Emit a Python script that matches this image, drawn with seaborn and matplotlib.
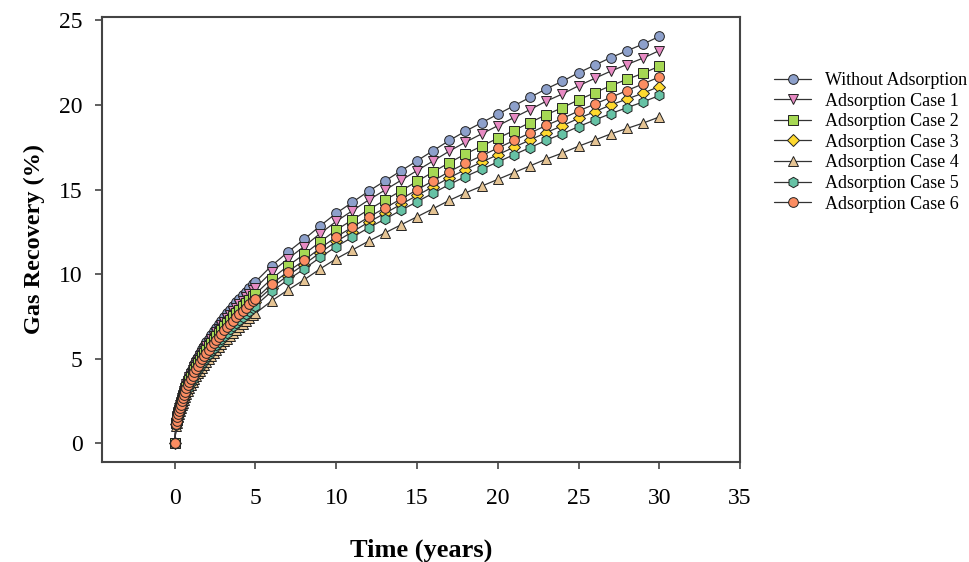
import matplotlib
matplotlib.use("Agg")
import matplotlib.pyplot as plt
import seaborn as sns

# Time (years): fine steps over the first 5 years, then yearly output
time_years = [0, 0.09, 0.1225, 0.16, 0.2025, 0.25, 0.3025, 0.36, 0.4225, 0.49,
              0.5625, 0.64, 0.7225, 0.81, 0.9025, 1.0, 1.1025, 1.21, 1.3225, 1.44,
              1.5625, 1.69, 1.8225, 1.96, 2.1025, 2.25, 2.4025, 2.56, 2.7225, 2.89,
              3.0625, 3.24, 3.4225, 3.61, 3.8025, 4.0, 4.2025, 4.41, 4.6225, 4.84, 5.0,
              6, 7, 8, 9, 10, 11, 12, 13, 14, 15, 16, 17, 18, 19, 20,
              21, 22, 23, 24, 25, 26, 27, 28, 29, 30]

# Gas recovery (%) per case
without_adsorption = [0, 1.28, 1.49, 1.71, 1.92, 2.14, 2.35, 2.56, 2.78, 2.99,
                      3.20, 3.42, 3.63, 3.84, 4.06, 4.27, 4.48, 4.70, 4.91, 5.12,
                      5.34, 5.55, 5.76, 5.98, 6.19, 6.41, 6.62, 6.83, 7.05, 7.26,
                      7.47, 7.69, 7.90, 8.11, 8.33, 8.54, 8.75, 8.97, 9.18, 9.39, 9.55,
                      10.5, 11.3, 12.05, 12.85, 13.6, 14.25, 14.9, 15.5, 16.1, 16.7,
                      17.3, 17.9, 18.45, 18.95, 19.45, 19.95, 20.45, 20.95, 21.4, 21.9,
                      22.35, 22.8, 23.2, 23.6, 24.05]
case_1 = [0, 1.23, 1.44, 1.64, 1.85, 2.06, 2.26, 2.47, 2.67, 2.88,
          3.08, 3.29, 3.49, 3.70, 3.90, 4.11, 4.32, 4.52, 4.73, 4.93,
          5.14, 5.34, 5.55, 5.75, 5.96, 6.17, 6.37, 6.58, 6.78, 6.99,
          7.19, 7.40, 7.60, 7.81, 8.01, 8.22, 8.43, 8.63, 8.84, 9.04, 9.19,
          10.13, 10.90, 11.63, 12.40, 13.12, 13.75, 14.38, 14.96, 15.54, 16.12,
          16.69, 17.27, 17.80, 18.29, 18.77, 19.25, 19.73, 20.22, 20.65, 21.13,
          21.57, 22.00, 22.39, 22.77, 23.21]
case_2 = [0, 1.19, 1.38, 1.58, 1.78, 1.98, 2.17, 2.37, 2.57, 2.77,
          2.96, 3.16, 3.36, 3.56, 3.75, 3.95, 4.15, 4.35, 4.54, 4.74,
          4.94, 5.14, 5.33, 5.53, 5.73, 5.93, 6.12, 6.32, 6.52, 6.72,
          6.91, 7.11, 7.31, 7.51, 7.70, 7.90, 8.10, 8.30, 8.49, 8.69, 8.83,
          9.73, 10.48, 11.17, 11.91, 12.61, 13.21, 13.81, 14.37, 14.92, 15.48,
          16.04, 16.59, 17.10, 17.57, 18.03, 18.49, 18.96, 19.42, 19.84, 20.30,
          20.72, 21.14, 21.51, 21.88, 22.29]
case_3 = [0, 1.12, 1.31, 1.50, 1.68, 1.87, 2.06, 2.24, 2.43, 2.62,
          2.81, 2.99, 3.18, 3.37, 3.55, 3.74, 3.93, 4.11, 4.30, 4.49,
          4.68, 4.86, 5.05, 5.24, 5.42, 5.61, 5.80, 5.98, 6.17, 6.36,
          6.55, 6.73, 6.92, 7.11, 7.29, 7.48, 7.67, 7.85, 8.04, 8.23, 8.36,
          9.21, 9.91, 10.57, 11.27, 11.93, 12.50, 13.07, 13.59, 14.12, 14.65,
          15.17, 15.70, 16.18, 16.62, 17.06, 17.50, 17.93, 18.37, 18.77, 19.21,
          19.60, 20.00, 20.35, 20.70, 21.09]
case_4 = [0, 1.03, 1.20, 1.38, 1.55, 1.72, 1.89, 2.06, 2.24, 2.41,
          2.58, 2.75, 2.92, 3.10, 3.27, 3.44, 3.61, 3.78, 3.96, 4.13,
          4.30, 4.47, 4.64, 4.82, 4.99, 5.16, 5.33, 5.50, 5.68, 5.85,
          6.02, 6.19, 6.36, 6.54, 6.71, 6.88, 7.05, 7.22, 7.40, 7.57, 7.69,
          8.42, 9.06, 9.66, 10.31, 10.91, 11.43, 11.95, 12.43, 12.91, 13.39,
          13.87, 14.36, 14.80, 15.20, 15.60, 16.00, 16.40, 16.80, 17.16, 17.56,
          17.92, 18.29, 18.61, 18.93, 19.29]
case_5 = [0, 1.09, 1.27, 1.46, 1.64, 1.82, 2.00, 2.18, 2.37, 2.55,
          2.73, 2.91, 3.09, 3.28, 3.46, 3.64, 3.82, 4.00, 4.19, 4.37,
          4.55, 4.73, 4.91, 5.10, 5.28, 5.46, 5.64, 5.82, 6.01, 6.19,
          6.37, 6.55, 6.73, 6.92, 7.10, 7.28, 7.46, 7.64, 7.83, 8.01, 8.14,
          8.98, 9.66, 10.30, 10.99, 11.63, 12.18, 12.74, 13.25, 13.77, 14.28,
          14.79, 15.30, 15.77, 16.20, 16.63, 17.06, 17.48, 17.91, 18.30, 18.72,
          19.11, 19.49, 19.84, 20.18, 20.56]
case_6 = [0, 1.15, 1.34, 1.53, 1.72, 1.91, 2.10, 2.29, 2.48, 2.67,
          2.87, 3.06, 3.25, 3.44, 3.63, 3.82, 4.01, 4.20, 4.39, 4.58,
          4.78, 4.97, 5.16, 5.35, 5.54, 5.73, 5.92, 6.11, 6.30, 6.49,
          6.69, 6.88, 7.07, 7.26, 7.45, 7.64, 7.83, 8.02, 8.21, 8.40, 8.54,
          9.42, 10.14, 10.81, 11.53, 12.20, 12.78, 13.37, 13.90, 14.44, 14.98,
          15.52, 16.06, 16.55, 17.00, 17.45, 17.90, 18.34, 18.79, 19.20, 19.64,
          20.05, 20.45, 20.85, 21.25, 21.65]

labels = ["Without Adsorption", "Adsorption Case 1", "Adsorption Case 2",
          "Adsorption Case 3", "Adsorption Case 4", "Adsorption Case 5",
          "Adsorption Case 6"]
series = [without_adsorption, case_1, case_2, case_3, case_4, case_5, case_6]
colors = ["#8da0cb", "#e78ac3", "#a6d854", "#ffd92f", "#e5c494", "#66c2a5", "#fc8d62"]
markers = ["o", "v", "s", "D", "^", "h", "o"]
sizes = [7, 7, 6.5, 6, 7, 7.5, 7]

sns.set_style("ticks")
plt.rcParams["font.family"] = ["Liberation Serif", "DejaVu Serif"]
plt.rcParams["text.color"] = "black"
plt.rcParams["axes.labelcolor"] = "black"
plt.rcParams["xtick.labelcolor"] = "black"
plt.rcParams["ytick.labelcolor"] = "black"

fig = plt.figure(figsize=(9.69, 5.62), dpi=100)
ax = fig.add_axes([0.1053, 0.178, 0.6584, 0.7918])

for vals, lab, col, mk, ms in zip(series, labels, colors, markers, sizes):
    assert len(vals) == len(time_years)
    sns.lineplot(x=time_years, y=vals, ax=ax, sort=False, estimator=None,
                 color="#333333", linewidth=0.9, marker=mk, markersize=ms,
                 markerfacecolor=col, markeredgecolor="#222222",
                 markeredgewidth=0.7, label=lab)

ax.set_xlim(-4.5, 35)
ax.set_ylim(-1.1, 25.2)
ax.set_xticks(range(0, 36, 5))
ax.set_yticks(range(0, 26, 5))
ax.tick_params(axis="both", direction="out", length=5, width=1.2,
               color="#444444", labelsize=17)
ax.tick_params(axis="x", pad=14)
ax.tick_params(axis="y", pad=9)
for sp in ax.spines.values():
    sp.set_visible(True)
    sp.set_color("#444444")
    sp.set_linewidth(1.5)

ax.set_xlabel("Time (years)", fontsize=19, fontweight="bold", labelpad=21)
ax.set_ylabel("Gas Recovery (%)", fontsize=17.5, fontweight="bold", labelpad=10)

ax.legend(loc="upper left", bbox_to_anchor=(0.789, 0.888),
          bbox_transform=fig.transFigure, frameon=False, fontsize=13,
          borderpad=0, handlelength=2.1, handletextpad=0.75, labelspacing=0.2)

fig.savefig("out.png", dpi=100)
